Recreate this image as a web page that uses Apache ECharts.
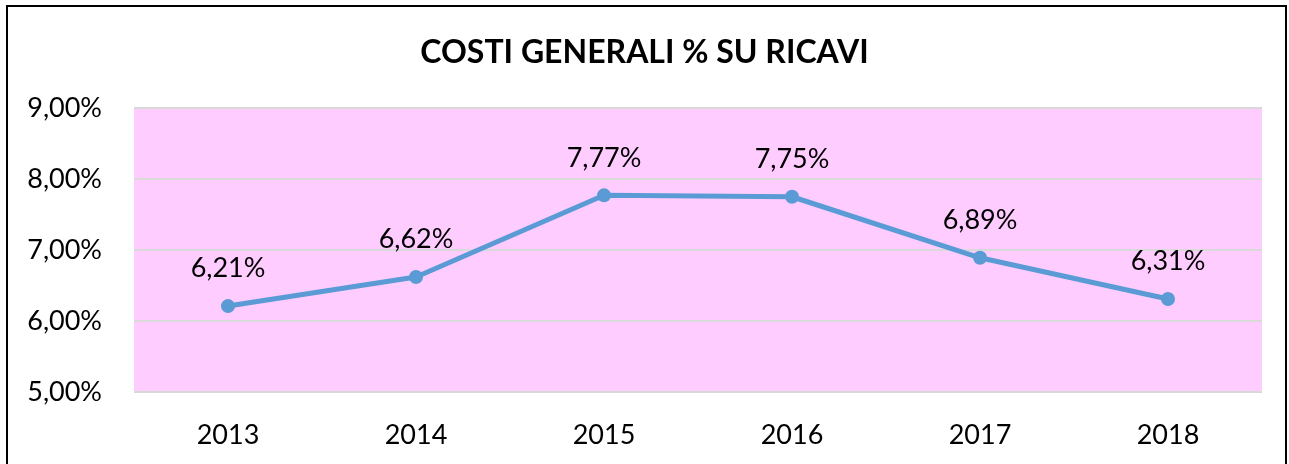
<!DOCTYPE html>
<html>
<head>
<meta charset="utf-8">
<script src="https://cdn.jsdelivr.net/npm/echarts@6/dist/echarts.min.js"></script>
<style>
html, body { margin: 0; padding: 0; background: #fff; }
#line-chart { width: 1289px; height: 464px; }
</style>
</head>
<body>
<div id="line-chart"></div>
<script>
var years = ['2013', '2014', '2015', '2016', '2017', '2018'];
var costPct = [6.21, 6.62, 7.77, 7.75, 6.89, 6.31];
var yMin = 5, yMax = 9, yStep = 1;

function pct(v) {
	return v.toFixed(2).replace('.', ',') + '%';
}

var myLine = echarts.init(document.getElementById('line-chart'));
var option = {
	animation: false,
	textStyle: { fontFamily: 'Lato' },
	title: {
		text: 'COSTI GENERALI % SU RICAVI',
		left: 'center',
		top: 32,
		textStyle: { fontFamily: 'Lato', fontSize: 32, fontWeight: 'bold', color: '#000' }
	},
	grid: { left: 134, right: 27, top: 108, bottom: 72 },
	graphic: [{
		type: 'rect',
		shape: { x: 7, y: 6, width: 1279, height: 470 },
		style: { fill: 'none', stroke: '#000', lineWidth: 2 },
		z: 100
	}, {
		type: 'rect',
		shape: { x: 134, y: 108, width: 1128, height: 284 },
		style: { fill: '#FFCCFF' },
		z: -1
	}],
	xAxis: {
		type: 'category',
		data: years,
		boundaryGap: true,
		axisLine: { show: false },
		axisTick: { show: false },
		axisLabel: { color: '#000', fontSize: 27, margin: 30 }
	},
	yAxis: {
		type: 'value',
		min: yMin,
		max: yMax,
		interval: yStep,
		axisLine: { show: false },
		axisTick: { show: false },
		splitLine: { lineStyle: { color: '#D9D9D9', width: 2 } },
		axisLabel: { color: '#000', fontSize: 27, margin: 32, formatter: function(v) { return pct(v); } }
	},
	series: [{
		type: 'line',
		data: costPct,
		symbol: 'circle',
		symbolSize: 14,
		lineStyle: { color: '#5B9BD5', width: 5 },
		itemStyle: { color: '#5B9BD5' },
		label: {
			show: true,
			position: 'top',
			distance: 17,
			color: '#000',
			fontSize: 27,
			formatter: function(p) { return pct(p.value); }
		}
	}]
};
myLine.setOption(option);
</script>
</body>
</html>
